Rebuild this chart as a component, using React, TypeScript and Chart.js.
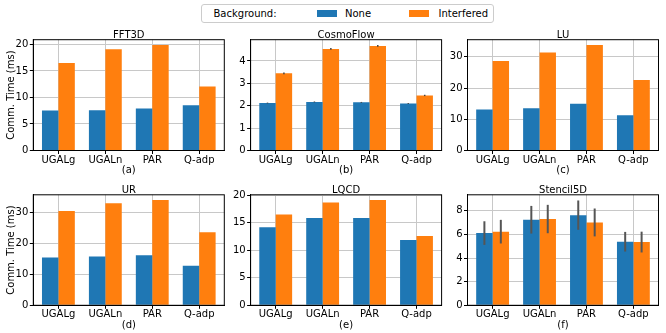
import React, { useEffect, useRef } from "react";
import { Chart, registerables } from "chart.js";

Chart.register(...registerables);

const CATEGORIES = ["UGALg", "UGALn", "PAR", "Q-adp"];
const SERIES_NAMES = ["None", "Interfered"];
const COLORS = ["#1f77b4", "#ff7f0e"];

// FFT3D
const fftNone = [7.55, 7.6, 7.9, 8.55];
const fftInterfered = [16.5, 19.1, 19.9, 12.05];
const fftTicks = [0, 5, 10, 15, 20];
// CosmoFlow
const cosmoNone = [2.12, 2.17, 2.15, 2.1];
const cosmoInterfered = [3.45, 4.54, 4.67, 2.46];
const cosmoNoneErr = [0.02, 0.02, 0.02, 0.02];
const cosmoInterferedErr = [0.04, 0.04, 0.04, 0.03];
const cosmoTicks = [0, 1, 2, 3, 4];
// LU
const luNone = [13.1, 13.5, 15.0, 11.3];
const luInterfered = [28.7, 31.4, 33.8, 22.6];
const luTicks = [0, 10, 20, 30];
// UR
const urNone = [15.4, 15.75, 16.1, 12.75];
const urInterfered = [30.4, 32.9, 33.9, 23.5];
const urTicks = [0, 10, 20, 30];
// LQCD
const lqcdNone = [14.2, 15.9, 15.9, 11.9];
const lqcdInterfered = [16.5, 18.7, 19.15, 12.6];
const lqcdTicks = [0, 5, 10, 15, 20];
// Stencil5D
const stencilNone = [6.11, 7.24, 7.63, 5.38];
const stencilInterfered = [6.23, 7.3, 7.01, 5.35];
const stencilNoneErr = [1.0, 1.17, 1.24, 0.83];
const stencilInterferedErr = [1.0, 1.2, 1.18, 0.88];
const stencilTicks = [0, 2, 4, 6, 8];

const ZERO = [0, 0, 0, 0];

type PanelSpec = {
  title: string;
  caption: string;
  none: number[];
  interfered: number[];
  noneErr: number[];
  interferedErr: number[];
  ticks: number[];
  ymax: number;
  errColor: string;
  errWidth: number;
  ylabel: boolean;
  left: number;
  top: number;
  width: number;
  height: number;
};

const COL_LEFT = [33.3, 250.6, 467.5];
const ROW_TOP = [39.7, 194.8];
const PLOT_W = 191;
const ROW_H = [110.8, 110.5];

const PANELS: PanelSpec[] = [
  { title: "FFT3D", caption: "(a)", none: fftNone, interfered: fftInterfered, noneErr: ZERO, interferedErr: ZERO, ticks: fftTicks, ymax: 20.9, errColor: "#444", errWidth: 1.5, ylabel: true, left: COL_LEFT[0], top: ROW_TOP[0], width: PLOT_W, height: ROW_H[0] },
  { title: "CosmoFlow", caption: "(b)", none: cosmoNone, interfered: cosmoInterfered, noneErr: cosmoNoneErr, interferedErr: cosmoInterferedErr, ticks: cosmoTicks, ymax: 4.95, errColor: "#444", errWidth: 1.5, ylabel: false, left: COL_LEFT[1], top: ROW_TOP[0], width: PLOT_W, height: ROW_H[0] },
  { title: "LU", caption: "(c)", none: luNone, interfered: luInterfered, noneErr: ZERO, interferedErr: ZERO, ticks: luTicks, ymax: 35.5, errColor: "#444", errWidth: 1.5, ylabel: false, left: COL_LEFT[2], top: ROW_TOP[0], width: PLOT_W, height: ROW_H[0] },
  { title: "UR", caption: "(d)", none: urNone, interfered: urInterfered, noneErr: ZERO, interferedErr: ZERO, ticks: urTicks, ymax: 35.6, errColor: "#444", errWidth: 1.5, ylabel: true, left: COL_LEFT[0], top: ROW_TOP[1], width: PLOT_W, height: ROW_H[1] },
  { title: "LQCD", caption: "(e)", none: lqcdNone, interfered: lqcdInterfered, noneErr: ZERO, interferedErr: ZERO, ticks: lqcdTicks, ymax: 20.1, errColor: "#444", errWidth: 1.5, ylabel: false, left: COL_LEFT[1], top: ROW_TOP[1], width: PLOT_W, height: ROW_H[1] },
  { title: "Stencil5D", caption: "(f)", none: stencilNone, interfered: stencilInterfered, noneErr: stencilNoneErr, interferedErr: stencilInterferedErr, ticks: stencilTicks, ymax: 9.35, errColor: "#555", errWidth: 2, ylabel: false, left: COL_LEFT[2], top: ROW_TOP[1], width: PLOT_W, height: ROW_H[1] },
];

const FONT = '"DejaVu Sans", sans-serif';
const GRID = "#c8c8c8";

function Panel({ spec }: { spec: PanelSpec }) {
  const ref = useRef<HTMLCanvasElement | null>(null);
  const cx = Math.floor(spec.left) - 40;
  const cy = Math.floor(spec.top) - 40;
  const cw = Math.ceil(spec.left + spec.width) + 14 - cx;
  const ch = Math.ceil(spec.top + spec.height) + 30 - cy;

  useEffect(() => {
    if (!ref.current) return;
    const yW = spec.left - cx;
    const padTop = spec.top - cy;
    const padRight = cx + cw - (spec.left + spec.width);
    const xH = cy + ch - (spec.top + spec.height);
    const errs = [spec.noneErr, spec.interferedErr];

    const decor = {
      id: "decor",
      afterDatasetsDraw(chart: any) {
        const ctx = chart.ctx;
        const a = chart.chartArea;
        const ys = chart.scales.y;
        ctx.save();
        ctx.strokeStyle = spec.errColor;
        ctx.lineWidth = spec.errWidth;
        [0, 1].forEach((d) => {
          const meta = chart.getDatasetMeta(d);
          const vals = d === 0 ? spec.none : spec.interfered;
          meta.data.forEach((bar: any, i: number) => {
            const e = errs[d][i];
            if (!e) return;
            ctx.beginPath();
            ctx.moveTo(bar.x, ys.getPixelForValue(vals[i] - e));
            ctx.lineTo(bar.x, ys.getPixelForValue(vals[i] + e));
            ctx.stroke();
          });
        });
        ctx.strokeStyle = "#000";
        ctx.lineWidth = 1;
        ctx.strokeRect(a.left, a.top, a.right - a.left, a.bottom - a.top);
        ctx.fillStyle = "#000";
        ctx.font = `10px ${FONT}`;
        ctx.textAlign = "center";
        ctx.textBaseline = "alphabetic";
        const midX = (a.left + a.right) / 2;
        ctx.fillText(spec.title, midX, a.top - 2);
        ctx.textBaseline = "middle";
        ctx.fillText(spec.caption, midX, a.bottom + 20);
        if (spec.ylabel) {
          ctx.save();
          ctx.translate(a.left - 22, (a.top + a.bottom) / 2);
          ctx.rotate(-Math.PI / 2);
          ctx.fillText("Comm. Time (ms)", 0, 0);
          ctx.restore();
        }
        ctx.restore();
      },
    };

    const chart = new Chart(ref.current, {
      type: "bar",
      data: {
        datasets: [spec.none, spec.interfered].map((vals, d) => ({
          label: SERIES_NAMES[d],
          data: vals.map((v, i) => ({ x: i, y: v })),
          backgroundColor: COLORS[d],
          borderWidth: 0,
          categoryPercentage: 0.7,
          barPercentage: 1.0,
        })),
      },
      options: {
        responsive: false,
        animation: false,
        devicePixelRatio: 1,
        layout: { padding: { left: 0, top: padTop, right: padRight, bottom: 0 } },
        plugins: { legend: { display: false }, tooltip: { enabled: false }, title: { display: false } },
        scales: {
          x: {
            type: "linear",
            min: -0.535,
            max: 3.535,
            offset: false,
            afterBuildTicks: (s: any) => {
              s.ticks = CATEGORIES.map((_, i) => ({ value: i }));
            },
            afterFit: (s: any) => {
              s.height = xH;
            },
            ticks: {
              callback: (v: any) => CATEGORIES[v as number] ?? "",
              font: { family: FONT, size: 10 },
              color: "#000",
              padding: 0,
              maxRotation: 0,
              autoSkip: false,
            },
            grid: { offset: false, color: GRID, lineWidth: 1, tickLength: 3.5, tickColor: "#000", tickWidth: 1 },
            border: { display: true, color: "#000", width: 1 },
          },
          y: {
            type: "linear",
            min: 0,
            max: spec.ymax,
            afterBuildTicks: (s: any) => {
              s.ticks = spec.ticks.map((v) => ({ value: v }));
            },
            afterFit: (s: any) => {
              s.width = yW;
            },
            ticks: {
              callback: (v: any) => String(v),
              font: { family: FONT, size: 10 },
              color: "#000",
              padding: 1.5,
              autoSkip: false,
            },
            grid: { color: GRID, lineWidth: 1, tickLength: 3.5, tickColor: "#000", tickWidth: 1 },
            border: { display: true, color: "#000", width: 1 },
          },
        },
      } as any,
      plugins: [decor],
    });
    return () => chart.destroy();
  }, []);

  return (
    <canvas
      ref={ref}
      width={cw}
      height={ch}
      style={{ position: "absolute", left: cx, top: cy, width: cw, height: ch }}
    />
  );
}

export default function App() {
  const txt = (left: number, s: string) => (
    <span
      style={{
        position: "absolute",
        left,
        top: 7.5,
        font: `10px ${FONT}`,
        lineHeight: "11px",
        whiteSpace: "nowrap",
        color: "#000",
      }}
    >
      {s}
    </span>
  );
  return (
    <div style={{ position: "absolute", left: 0, top: 0, width: 666, height: 333, background: "#fff", overflow: "hidden" }}>
      {PANELS.map((p, i) => (
        <Panel key={i} spec={p} />
      ))}
      <div
        style={{
          position: "absolute",
          left: 200.5,
          top: 4,
          width: 293,
          height: 19,
          border: "1px solid #cccccc",
          borderRadius: 3,
          boxSizing: "border-box",
          background: "#fff",
        }}
      />
      {txt(213.5, "Background:")}
      <div style={{ position: "absolute", left: 316.5, top: 10, width: 20, height: 6.5, background: COLORS[0] }} />
      {txt(345, SERIES_NAMES[0])}
      <div style={{ position: "absolute", left: 408.5, top: 10, width: 20, height: 6.5, background: COLORS[1] }} />
      {txt(438.5, SERIES_NAMES[1])}
    </div>
  );
}
